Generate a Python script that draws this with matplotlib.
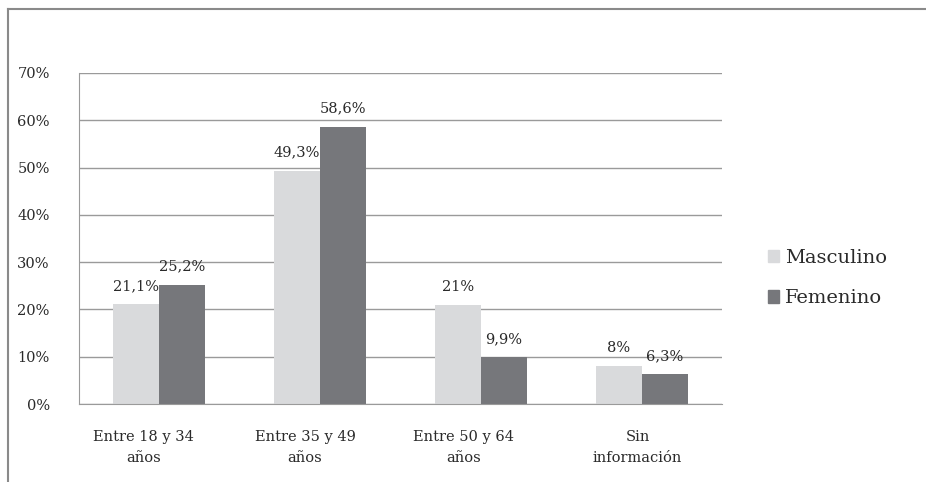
import matplotlib.pyplot as plt
import numpy as np
import matplotlib.transforms as mtransforms
from matplotlib.lines import Line2D
from matplotlib.patches import Patch

# Age groups and shares by sex (%)
categorias = ["Entre 18 y 34\naños", "Entre 35 y 49\naños", "Entre 50 y 64\naños", "Sin\ninformación"]
masculino = [21.1, 49.3, 21.0, 8.0]
femenino = [25.2, 58.6, 9.9, 6.3]
etiq_masc = ["21,1%", "49,3%", "21%", "8%"]
etiq_fem = ["25,2%", "58,6%", "9,9%", "6,3%"]
yticks = [0, 10, 20, 30, 40, 50, 60, 70]

col_masc = "#d9dadc"
col_fem = "#76777b"
col_txt = "#2a2a2a"

plt.rcParams["font.family"] = ["DejaVu Serif"]

fig = plt.figure(figsize=(9.26, 4.82), dpi=100)
W, H = 926, 482
ax = fig.add_axes([79 / W, 1 - 404 / H, (722 - 79) / W, (404 - 73) / H])

x = np.arange(len(categorias))
w = 0.286
b1 = ax.bar(x - w / 2, masculino, w, color=col_masc, label="Masculino", zorder=2)
b2 = ax.bar(x + w / 2, femenino, w, color=col_fem, label="Femenino", zorder=2)

for bars, etiq in ((b1, etiq_masc), (b2, etiq_fem)):
    for rect, txt in zip(bars, etiq):
        ax.annotate(txt, (rect.get_x() + rect.get_width() / 2, rect.get_height()),
                    xytext=(0, 8), textcoords="offset points", ha="center", va="bottom",
                    fontsize=10.5, color=col_txt)

ax.set_xlim(-0.5, len(categorias) - 0.5)
ax.set_ylim(0, 70)
ax.set_yticks(yticks)
ax.set_yticklabels([f"{v}%" for v in yticks], fontsize=10.5, color=col_txt)
ax.set_xticks(x)
ax.set_xticklabels(categorias, fontsize=10.5, color=col_txt, linespacing=1.6)
ax.tick_params(axis="both", length=0)
ax.tick_params(axis="y", pad=21)
ax.tick_params(axis="x", pad=19)

# category labels sit a little left of the bar groups
shifts = [-16, -15, -17, -4]
for lbl, dx in zip(ax.get_xticklabels(), shifts):
    lbl.set_transform(lbl.get_transform() + mtransforms.ScaledTranslation(dx / 100, 0, fig.dpi_scale_trans))

ax.yaxis.grid(True, color="#9a9a9a", linewidth=1.0, zorder=0)
ax.set_axisbelow(True)
for s in ["top", "right"]:
    ax.spines[s].set_visible(False)
ax.spines["left"].set_color("#9a9a9a")
ax.spines["bottom"].set_color("#9a9a9a")

handles = [Patch(color=col_masc), Patch(color=col_fem)]
fig.legend(handles, ["Masculino", "Femenino"], loc="center left",
           bbox_to_anchor=(750 / W, 1 - 278 / H), frameon=False, fontsize=14,
           handlelength=0.6, handleheight=0.6, handletextpad=0.3, labelspacing=1.15,
           labelcolor=col_txt)

# outer frame edges
fig.add_artist(Line2D([8 / W, 1], [1 - 9 / H, 1 - 9 / H], color="#8a8a8a", linewidth=1.5))
fig.add_artist(Line2D([8 / W, 8 / W], [0, 1 - 9 / H], color="#8a8a8a", linewidth=1.5))

fig.savefig("out.png", dpi=100)
